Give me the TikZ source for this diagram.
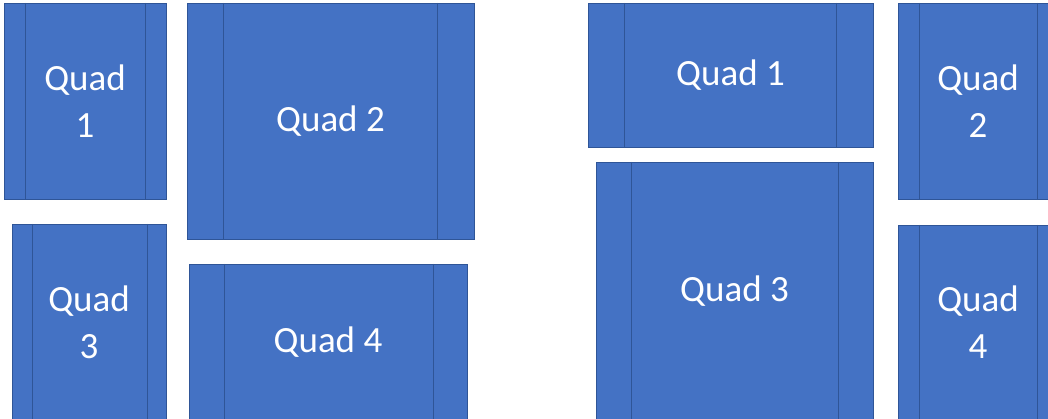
\documentclass[tikz,border=0pt]{standalone}
\usepackage{fontspec}
\setmainfont{Carlito}
\definecolor{quadfill}{HTML}{4472C4}
\definecolor{quadline}{HTML}{2F5597}
\begin{document}
\begin{tikzpicture}[x=1pt,y=-1pt,
  quad/.style={rectangle, draw=quadline, line width=0.8pt, fill=quadfill,
    text=white, align=center, inner sep=0pt, outer sep=0pt,
    font=\fontsize{37}{47}\selectfont},
  innerline/.style={draw=quadline, line width=0.8pt}]
\useasboundingbox (0,0) rectangle (1048,419);
\clip (0,0) rectangle (1048,419);
\fill[white] (0,0) rectangle (1048,419);
% left layout
\node[quad, minimum width=162pt, minimum height=196pt] (l1) at (85,101) {Quad\\1};
\node[quad, minimum width=154pt, minimum height=196pt] (l3) at (89,322) {Quad\\3};
\node[quad, minimum width=287pt, minimum height=236pt] (l2) at (330.5,121) {Quad 2};
\node[quad, minimum width=278pt, minimum height=156pt] (l4) at (328,342) {Quad 4};
% right layout
\node[quad, minimum width=285pt, minimum height=144pt] (r1) at (730.5,75) {Quad 1};
\node[quad, minimum width=277pt, minimum height=258pt] (r3) at (734.5,291) {Quad 3};
\node[quad, minimum width=160pt, minimum height=196pt] (r2) at (978,101) {Quad\\2};
\node[quad, minimum width=160pt, minimum height=195pt] (r4) at (978,322.5) {Quad\\4};
% inner lines
\draw[innerline] ([xshift=21pt]l1.north west) -- ([xshift=21pt]l1.south west);
\draw[innerline] ([xshift=-21pt]l1.north east) -- ([xshift=-21pt]l1.south east);
\draw[innerline] ([xshift=20pt]l3.north west) -- ([xshift=20pt]l3.south west);
\draw[innerline] ([xshift=-19pt]l3.north east) -- ([xshift=-19pt]l3.south east);
\draw[innerline] ([xshift=36pt]l2.north west) -- ([xshift=36pt]l2.south west);
\draw[innerline] ([xshift=-37pt]l2.north east) -- ([xshift=-37pt]l2.south east);
\draw[innerline] ([xshift=35pt]l4.north west) -- ([xshift=35pt]l4.south west);
\draw[innerline] ([xshift=-34pt]l4.north east) -- ([xshift=-34pt]l4.south east);
\draw[innerline] ([xshift=36pt]r1.north west) -- ([xshift=36pt]r1.south west);
\draw[innerline] ([xshift=-37pt]r1.north east) -- ([xshift=-37pt]r1.south east);
\draw[innerline] ([xshift=35pt]r3.north west) -- ([xshift=35pt]r3.south west);
\draw[innerline] ([xshift=-35pt]r3.north east) -- ([xshift=-35pt]r3.south east);
\draw[innerline] ([xshift=21pt]r2.north west) -- ([xshift=21pt]r2.south west);
\draw[innerline] ([xshift=-21pt]r2.north east) -- ([xshift=-21pt]r2.south east);
\draw[innerline] ([xshift=21pt]r4.north west) -- ([xshift=21pt]r4.south west);
\draw[innerline] ([xshift=-21pt]r4.north east) -- ([xshift=-21pt]r4.south east);
\end{tikzpicture}
\end{document}
